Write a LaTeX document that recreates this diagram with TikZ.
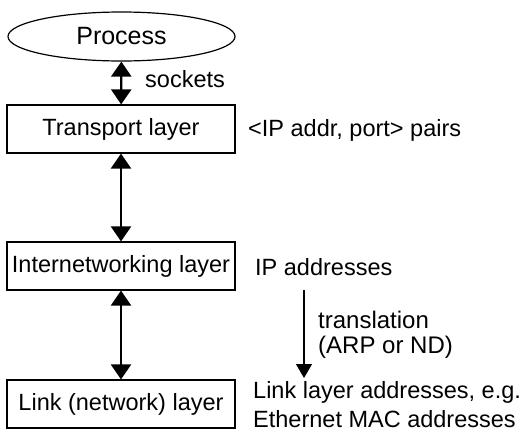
\documentclass[tikz,border=0pt]{standalone}
\usepackage{fontspec}
\setmainfont{Liberation Sans}
\usetikzlibrary{arrows.meta,shapes.geometric}

\tikzset{
  layerbox/.style={draw,line width=1.2pt,minimum width=228pt,minimum height=48pt,inner sep=0pt,
    font=\fontsize{23.5}{28}\selectfont},
  lbl/.style={anchor=base west,inner sep=0pt,align=left,font=\fontsize{23.5}{28}\selectfont},
  bigarrow/.style={line width=2.4pt,{Triangle[width=20pt,length=15pt]}-{Triangle[width=20pt,length=15pt]}},
  thinarrow/.style={line width=1.1pt,-{Triangle[width=16pt,length=14pt]}}
}

\begin{document}
\begin{tikzpicture}[x=1pt,y=-1pt]
    \useasboundingbox (0,0) rectangle (521,431);
    \node [ellipse,draw,line width=1.2pt,minimum width=227pt,minimum height=49pt,inner sep=0pt,
           font=\fontsize{25}{30}\selectfont] (process) at (121.5,36.5) {Process};
    \node [layerbox] (transport) at (121,129) {Transport layer};
    \node [layerbox] (internet)  at (121,266) {Internetworking layer};
    \node [layerbox] (link)      at (121,404) {Link (network) layer};

    \draw [bigarrow] (process) -- (transport);
    \draw [bigarrow] (transport) -- (internet);
    \draw [bigarrow] (internet) -- (link);

    \node [lbl] (sockets) at (145,87)  {sockets};
    \node [lbl] (pairs)   at (248,136) {<IP addr, port> pairs};
    \node [lbl] (ipaddr)  at (255,275) {IP addresses};
    % base anchor of a two-line node sits on the last line
    \node [lbl,font=\fontsize{24}{25}\selectfont] (transl) at (318,353) {translation\\(ARP or ND)};
    \node [lbl,font=\fontsize{23.5}{29}\selectfont] (linkaddr) at (253,427) {Link layer addresses, e.g.\\Ethernet MAC addresses};

    \coordinate (tfrom) at (304,290);
    \coordinate (tto)   at (304,378);
    \draw [thinarrow] (tfrom) -- (tto);
\end{tikzpicture}
\end{document}
